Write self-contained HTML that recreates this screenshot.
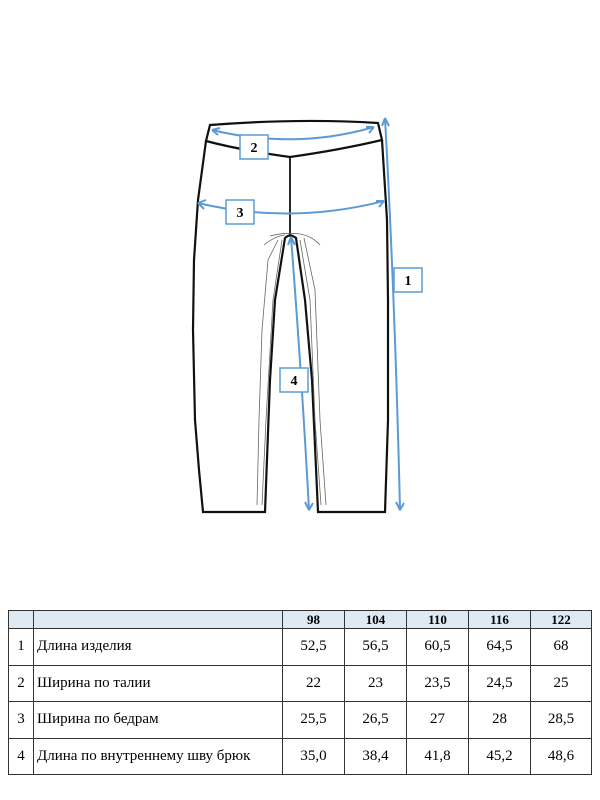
<!DOCTYPE html><html><head><style>
body{margin:0;width:600px;height:800px;background:#fff;position:relative;overflow:hidden;font-family:"Liberation Serif",serif}
svg{position:absolute;left:0;top:0}
table{position:absolute;left:8px;top:610px;border-collapse:collapse;font-size:15px}
td{border:1.5px solid #333;text-align:center;padding:0;height:35.5px}
tr.h td{background:#dde9f3;font-weight:bold;height:17px;font-size:13px}
td.l{text-align:left;padding-left:3px}
</style></head><body>
<svg width="600" height="600" viewBox="0 0 600 600">
<g fill="none" stroke="#111" stroke-width="2.2">
<path d="M210,125 Q300,118 378,123 L382,140 Q340,150 290,157 Q240,150 206,141 Z"/>
<path d="M206,141 L198,200 L194,260 L193,330 L195,420 L199,470 L203,512 L265,512 L270,380 L275,300 L285,238 Q290,233 296,238 L305,300 L312,380 L318,512 L385,512 L388,420 L388,300 L387,220 L382,140"/>
<path d="M290,157 L290,235" stroke-width="1.8"/>
</g>
<g fill="none" stroke="#666" stroke-width="0.8">
<path d="M278,240 L268,260 L262,330 L259,420 L257,505"/><path d="M282,240 L273,300 L266,420 L262,505"/>
<path d="M300,240 L310,300 L315,420 L321,505"/><path d="M304,238 L315,290 L320,420 L326,505"/>
<path d="M270,236 Q285,232 300,234 Q312,236 320,245"/><path d="M264,245 Q275,236 285,235"/>
</g>
<g fill="none" stroke="#5b9bd5" stroke-width="2">
<path d="M212,130 Q295,150 374,127"/><path d="M212,130 l8,-2 M212,130 l6,5 M374,127 l-8,0 M374,127 l-5,6"/>
<path d="M198,203 Q290,225 384,201"/><path d="M198,203 l8,-3 M198,203 l6,6 M384,201 l-8,0 M384,201 l-5,6"/>
<path d="M385,118 Q395,300 400,510"/><path d="M385,118 l-3,8 M385,118 l4,8 M400,510 l-4,-8 M400,510 l4,-7"/>
<path d="M291,237 Q302,380 309,510"/><path d="M291,237 l-3,8 M291,237 l4,8 M309,510 l-4,-8 M309,510 l4,-7"/>
</g>
<g fill="#fff" stroke="#5b9bd5" stroke-width="1.5">
<rect x="240" y="135" width="28" height="24"/><rect x="226" y="200" width="28" height="24"/>
<rect x="394" y="268" width="28" height="24"/><rect x="280" y="368" width="28" height="24"/>
</g>
<g font-family="Liberation Serif" font-weight="bold" font-size="14" text-anchor="middle">
<text x="254" y="152">2</text><text x="240" y="217">3</text><text x="408" y="285">1</text><text x="294" y="385">4</text>
</g>
</svg>
<table>
<tr class="h"><td style="width:24px"></td><td style="width:248px"></td><td style="width:61px">98</td><td style="width:61px">104</td><td style="width:61px">110</td><td style="width:61px">116</td><td style="width:60px">122</td></tr>
<tr><td>1</td><td class="l">Длина изделия</td><td>52,5</td><td>56,5</td><td>60,5</td><td>64,5</td><td>68</td></tr>
<tr><td>2</td><td class="l">Ширина по талии</td><td>22</td><td>23</td><td>23,5</td><td>24,5</td><td>25</td></tr>
<tr><td>3</td><td class="l">Ширина по бедрам</td><td>25,5</td><td>26,5</td><td>27</td><td>28</td><td>28,5</td></tr>
<tr><td>4</td><td class="l">Длина по внутреннему шву брюк</td><td>35,0</td><td>38,4</td><td>41,8</td><td>45,2</td><td>48,6</td></tr>
</table>
</body></html>
